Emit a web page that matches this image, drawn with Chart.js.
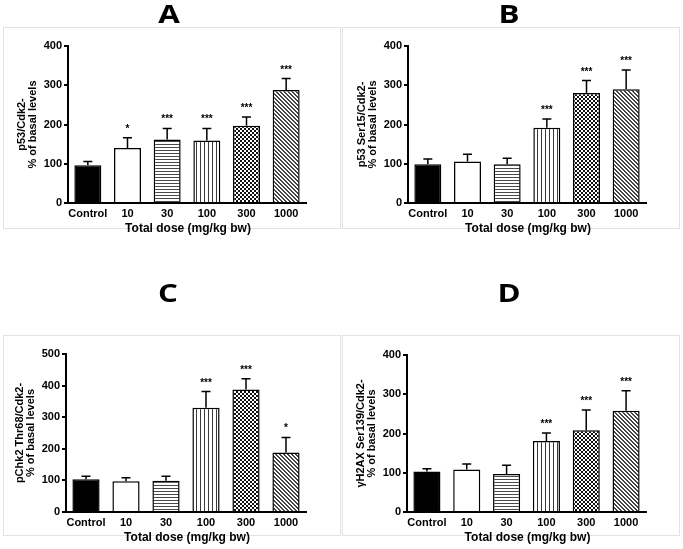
<!DOCTYPE html>
<html><head><meta charset="utf-8">
<script src="https://cdn.jsdelivr.net/npm/chart.js@4.4.0/dist/chart.umd.min.js"></script>
<style>
body{margin:0;background:#fff;width:683px;height:549px;position:relative;overflow:hidden}
.frame{position:absolute;border:1px solid #e2e2e2;box-sizing:border-box}
.cv{position:absolute}
</style></head><body>
<div class="frame" style="left:3px;top:27px;width:338px;height:202px"></div>
<div class="frame" style="left:342px;top:27px;width:338px;height:202px"></div>
<div class="frame" style="left:3px;top:335px;width:338px;height:201px"></div>
<div class="frame" style="left:342px;top:335px;width:338px;height:201px"></div>
<canvas class="cv" id="cA" width="341" height="270" style="left:0;top:0"></canvas>
<canvas class="cv" id="cB" width="342" height="270" style="left:341px;top:0"></canvas>
<canvas class="cv" id="cC" width="341" height="274" style="left:0;top:275px"></canvas>
<canvas class="cv" id="cD" width="342" height="274" style="left:341px;top:275px"></canvas>
<script>
// ---- data ----
const categories = ['Control', '10', '30', '100', '300', '1000'];
const meansA = [96, 140, 162, 159, 197, 288];
const semA   = [10, 26, 28, 31, 22, 29];
const starsA = ['', '*', '***', '***', '***', '***'];
const meansB = [99, 106, 99, 192, 280, 290];
const semB   = [13, 18, 15, 22, 32, 49];
const starsB = ['', '', '', '***', '***', '***'];
const meansC = [104, 97, 99, 330, 388, 188];
const semC   = [9, 11, 14, 51, 34, 48];
const starsC = ['', '', '', '***', '***', '*'];
const meansD = [103, 108, 97, 181, 208, 258];
const semD   = [7, 14, 22, 20, 52, 51];
const starsD = ['', '', '', '***', '***', '***'];
const ticksAB = [0, 100, 200, 300, 400];
const ticksC = [0, 100, 200, 300, 400, 500];
const xTitle = 'Total dose (mg/kg bw)';

// ---- patterns ----
function makePattern(w, h, draw) {
  const c = document.createElement('canvas');
  c.width = w; c.height = h;
  const g = c.getContext('2d');
  g.fillStyle = '#fff'; g.fillRect(0, 0, w, h);
  draw(g);
  return g.createPattern(c, 'repeat');
}
const pHoriz = makePattern(1, 3, g => { g.fillStyle = '#4a4a4a'; g.fillRect(0, 0, 1, 1); });
const pVert = makePattern(4, 1, g => { g.fillStyle = '#3a3a3a'; g.fillRect(0, 0, 1, 1); });
const pCheck = makePattern(4, 4, g => { g.fillStyle = '#111'; g.fillRect(0, 0, 2, 2); g.fillRect(2, 2, 2, 2); });
const pDiag = makePattern(4, 4, g => { g.fillStyle = '#444'; for (let i = 0; i < 4; i++) { g.fillRect(i, i, 1, 1); g.fillRect((i + 1) % 4, i, 1, 1); } });
const fills = ['#000', '#fff', pHoriz, pVert, pCheck, pDiag];

const FONT = "'Liberation Sans', Arial, sans-serif";

const annotPlugin = {
  id: 'annot',
  afterDatasetsDraw(chart, args, o) {
    const ctx = chart.ctx;
    const ys = chart.scales.y;
    const meta = chart.getDatasetMeta(0);
    ctx.save();
    ctx.strokeStyle = '#000';
    ctx.lineWidth = 1.5;
    ctx.fillStyle = '#000';
    ctx.font = 'bold 10px ' + FONT;
    ctx.textAlign = 'center';
    ctx.textBaseline = 'alphabetic';
    o.means.forEach((m, i) => {
      const x = meta.data[i].x;
      const y0 = ys.getPixelForValue(m);
      const y1 = ys.getPixelForValue(m + o.sem[i]);
      ctx.beginPath();
      ctx.moveTo(x, y0); ctx.lineTo(x, y1);
      ctx.moveTo(x - 4.5, y1); ctx.lineTo(x + 4.5, y1);
      ctx.stroke();
      if (o.stars[i]) ctx.fillText(o.stars[i], x, y1 - 6);
    });
    ctx.restore();
  },
  afterDraw(chart, args, o) {
    const ctx = chart.ctx;
    const a = chart.chartArea;
    ctx.save();
    ctx.fillStyle = '#000';
    ctx.textAlign = 'center';
    ctx.textBaseline = 'middle';
    // panel letter
    ctx.save();
    ctx.translate(o.letterX, o.letterY);
    ctx.scale(1.25, 1);
    ctx.font = "bold 25px 'Open Sans', sans-serif";
    ctx.fillText(o.letter, 0, 0);
    ctx.restore();
    // x title
    ctx.font = 'bold 12px ' + FONT;
    ctx.fillText(xTitle, (a.left + a.right) / 2 + 1, a.bottom + 26);
    // y title
    ctx.font = 'bold 11px ' + FONT;
    const cy = (a.top + a.bottom) / 2;
    o.yTitle.forEach((t, k) => {
      ctx.save();
      ctx.translate(a.left - 46 + k * 11, cy);
      ctx.rotate(-Math.PI / 2);
      ctx.fillText(t, 0, 0);
      ctx.restore();
    });
    ctx.restore();
  }
};

function makeChart(id, means, sem, stars, ticks, yTitle, letter, area) {
  const cv = document.getElementById(id);
  const W = cv.width, H = cv.height;
  const yW = 40, xH = 30;
  const ymax = ticks[ticks.length - 1];
  return new Chart(cv, {
    type: 'bar',
    data: {
      labels: categories,
      datasets: [{
        data: means,
        backgroundColor: fills,
        borderColor: '#000',
        borderWidth: 1.5,
        categoryPercentage: 1,
        barPercentage: 0.68
      }]
    },
    options: {
      responsive: false,
      animation: false,
      events: [],
      layout: { padding: { left: area.left - yW, right: W - area.right, top: area.top, bottom: H - area.bottom - xH } },
      plugins: {
        legend: { display: false },
        tooltip: { enabled: false },
        annot: { means, sem, stars, letter, letterX: area.lx, letterY: area.ly, yTitle }
      },
      scales: {
        x: {
          afterFit: s => { s.height = xH; },
          grid: { display: false, drawTicks: false },
          border: { display: true, color: '#000', width: 2 },
          ticks: { color: '#000', padding: 4, maxRotation: 0, minRotation: 0, autoSkip: false,
                   font: { family: FONT, size: 11, weight: 'bold' } }
        },
        y: {
          min: 0, max: ymax,
          afterFit: s => { s.width = yW; },
          afterBuildTicks: s => { s.ticks = ticks.map(v => ({ value: v })); },
          grid: { display: true, drawOnChartArea: false, drawTicks: true, tickLength: 4, color: '#000', lineWidth: 2 },
          border: { display: true, color: '#000', width: 2 },
          ticks: { color: '#000', padding: 2, font: { family: FONT, size: 11, weight: 'bold' } }
        }
      }
    },
    plugins: [annotPlugin]
  });
}

makeChart('cA', meansA, semA, starsA, ticksAB, ['p53/Cdk2-', '% of basal levels'], 'A',
  { left: 68, right: 306, top: 46, bottom: 203, lx: 169, ly: 16 });
makeChart('cB', meansB, semB, starsB, ticksAB, ['p53 Ser15/Cdk2-', '% of basal levels'], 'B',
  { left: 67, right: 305, top: 46, bottom: 203, lx: 168, ly: 16 });
makeChart('cC', meansC, semC, starsC, ticksC, ['pChk2 Thr68/Cdk2-', '% of basal levels'], 'C',
  { left: 66, right: 306, top: 79, bottom: 237, lx: 168, ly: 20 });
makeChart('cD', meansD, semD, starsD, ticksAB, ['\u03b3H2AX Ser139/Cdk2-', '% of basal levels'], 'D',
  { left: 66, right: 305, top: 80, bottom: 237, lx: 168, ly: 20 });
</script>
</body></html>
